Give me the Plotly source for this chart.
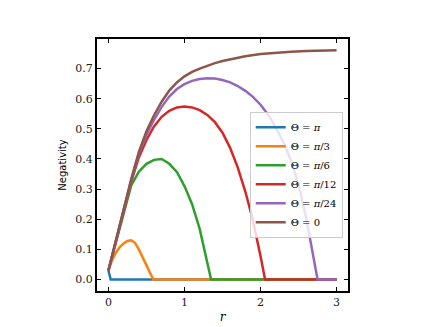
import plotly.graph_objects as go

# negativity vs squeezing r
r_pi = [0, 0.03, 3.0]
n_pi = [0.03, 0.0, 0.0]

r_pi3 = [0, 0.05, 0.1, 0.15, 0.2, 0.25, 0.3, 0.35, 0.4, 0.45, 0.5, 0.55, 0.59, 3.0]
n_pi3 = [0.03, 0.065, 0.09, 0.108, 0.12, 0.128, 0.13, 0.122, 0.1, 0.073, 0.048, 0.022, 0.0, 0.0]

r_pi6 = [0, 0.1, 0.2, 0.3, 0.4, 0.5, 0.6, 0.7, 0.8, 0.9, 1.0, 1.1, 1.2, 1.3, 1.35, 3.0]
n_pi6 = [0.03, 0.125, 0.222, 0.312, 0.358, 0.384, 0.397, 0.4, 0.384, 0.357, 0.31, 0.25, 0.168, 0.055, 0.0, 0.0]

r_pi12 = [0, 0.1, 0.2, 0.3, 0.4, 0.5, 0.6, 0.7, 0.8, 0.9, 1.0, 1.1, 1.2, 1.3, 1.4, 1.5,
          1.6, 1.7, 1.8, 1.9, 2.0, 2.06, 3.0]
n_pi12 = [0.03, 0.13, 0.23, 0.325, 0.405, 0.463, 0.508, 0.54, 0.56, 0.571, 0.574, 0.571,
          0.562, 0.546, 0.522, 0.487, 0.437, 0.372, 0.292, 0.197, 0.077, 0.0, 0.0]

r_pi24 = [0, 0.1, 0.2, 0.3, 0.4, 0.5, 0.6, 0.7, 0.8, 0.9, 1.0, 1.1, 1.2, 1.3, 1.4, 1.5,
          1.6, 1.7, 1.8, 1.9, 2.0, 2.1, 2.2, 2.3, 2.4, 2.5, 2.6, 2.7, 2.75, 3.0]
n_pi24 = [0.03, 0.132, 0.233, 0.33, 0.418, 0.48, 0.53, 0.573, 0.607, 0.632, 0.648, 0.659,
          0.665, 0.668, 0.667, 0.662, 0.654, 0.642, 0.626, 0.606, 0.58, 0.547, 0.505,
          0.455, 0.395, 0.315, 0.205, 0.07, 0.0, 0.0]

r_zero = [0, 0.1, 0.2, 0.3, 0.4, 0.5, 0.6, 0.7, 0.8, 0.9, 1.0, 1.1, 1.2, 1.3, 1.4, 1.5,
          1.6, 1.8, 2.0, 2.2, 2.4, 2.6, 2.8, 3.0]
n_zero = [0.03, 0.132, 0.234, 0.333, 0.423, 0.492, 0.545, 0.59, 0.627, 0.654, 0.674, 0.689,
          0.7, 0.71, 0.718, 0.725, 0.731, 0.741, 0.748, 0.753, 0.756, 0.758, 0.76, 0.761]

series = [
    ("Θ = <i>π</i>", r_pi, n_pi, "#1f77b4"),
    ("Θ = <i>π</i>/3", r_pi3, n_pi3, "#ff7f0e"),
    ("Θ = <i>π</i>/6", r_pi6, n_pi6, "#2ca02c"),
    ("Θ = <i>π</i>/12", r_pi12, n_pi12, "#d62728"),
    ("Θ = <i>π</i>/24", r_pi24, n_pi24, "#9467bd"),
    ("Θ = 0", r_zero, n_zero, "#8c564b"),
]

serif = "DejaVu Serif"

fig = go.Figure()
for name, r, n, color in series:
    fig.add_trace(go.Scatter(x=r, y=n, mode="lines", name=name,
                             line=dict(color=color, width=2.5)))

axis_style = dict(showline=True, linewidth=2, linecolor="black", mirror="allticks",
                  ticks="inside", ticklen=4, tickwidth=1, tickcolor="black",
                  showgrid=False, zeroline=False, automargin=False,
                  tickfont=dict(family=serif, size=11, color="#222222"))

fig.update_xaxes(range=[-0.15, 3.15], tickvals=[0, 1, 2, 3],
                 title=dict(text="<i>r</i>", font=dict(family=serif, size=12, color="black"),
                            standoff=4),
                 **axis_style)
fig.update_yaxes(range=[-0.038, 0.798], tickvals=[0, 0.1, 0.2, 0.3, 0.4, 0.5, 0.6, 0.7],
                 tickformat=".1f",
                 title=dict(text="Negativity", font=dict(family="DejaVu Sans", size=10, color="black"),
                            standoff=7),
                 **axis_style)

# page body adds an 8px offset, so the figure is 8px smaller than the window
fig.update_layout(
    width=428, height=319,
    margin=dict(l=89, r=88, t=31, b=36),
    paper_bgcolor="white", plot_bgcolor="white",
    legend=dict(x=0.979, y=0.711, xanchor="right", yanchor="top",
                bgcolor="rgba(255,255,255,0.8)", bordercolor="#cccccc", borderwidth=1,
                font=dict(family=serif, size=10, color="black"),
                itemwidth=30, tracegroupgap=0),
    showlegend=True,
)

fig.write_html("out.html")
